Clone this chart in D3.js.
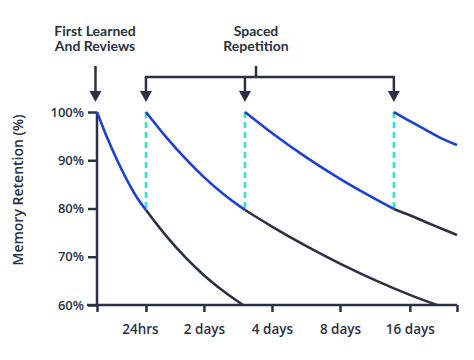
<!DOCTYPE html>
<html><head><meta charset="utf-8">
<script src="https://cdn.jsdelivr.net/npm/d3@7"></script>
<style>body{margin:0;background:#fff}svg{display:block}text{font-family:"Open Sans",sans-serif;font-weight:600;fill:#2a3144}</style>
</head><body><svg id="c" width="474" height="360"></svg>
<script>
// x in interval-index units (0 = first learning, 1 = 24hrs tick, ...), y in %
const xTickLabels = ["", "24hrs", "2 days", "4 days", "8 days", "16 days", ""];
const yTicks = [60, 70, 80, 90, 100];
const firstLearnTime = 0;
const reviewTimes = [1.0, 2.603, 4.771];
// forgetting curves: blue part (until review) and dark part (if review is skipped)
const curve1Blue = [[0,100],[0.2,94.86],[0.4,90.26],[0.6,86.16],[0.8,82.55],[1.0,79.7]];
const curve1Dark = [[1.0,79.7],[1.345,74.38],[1.69,69.75],[2.0,66.16],[2.294,62.78],[2.574,60]];
const curve2Blue = [[1.0,100],[1.345,94.84],[1.69,90.22],[2.0,86.5],[2.294,82.9],[2.603,79.7]];
const curve2Dark = [[2.603,79.7],[3.0,76.26],[3.5,72.25],[4.0,68.58],[4.5,65.16],[5.0,62.1],[5.574,60]];
const curve3Blue = [[2.603,100],[3.0,95.65],[3.5,90.64],[4.0,86.14],[4.386,82.92],[4.771,79.9]];
const curve3Dark = [[4.771,79.9],[5.0,78.59],[5.319,77.26],[5.638,75.96],[6.0,74.5]];
const curve4Blue = [[4.771,100],[5.0,98.1],[5.319,96.4],[5.638,94.7],[6.0,93.16]];

const svg = d3.select("#c");
const L = 97, R = 457, T = 112, B = 305;
const frac = [0, 0.136, 0.297, 0.486, 0.675, 0.869, 1];
const x = d3.scaleLinear().domain(d3.range(7)).range(frac.map(f => L + f*(R-L)));
const y = d3.scaleLinear().domain([60,100]).range([B,T]);
const dark = "#2a3144", blue = "#1c3fd8", cyan = "#2ee6c5";

// axes
const gy = svg.append("g").attr("transform",`translate(${L},0)`)
  .call(d3.axisLeft(y).tickValues(yTicks).tickFormat(d=>d+"%").tickSize(9).tickPadding(4));
gy.select(".domain").attr("stroke",dark).attr("stroke-width",2.5).attr("d",`M0,${T}V${B}`);
gy.selectAll(".tick line").attr("stroke",dark).attr("stroke-width",2.5);
gy.selectAll(".tick text").style("font-size","13px").attr("fill",dark);

const gx = svg.append("g").attr("transform",`translate(0,${B})`)
  .call(d3.axisBottom(x).tickValues(d3.range(7)).tickFormat((d,i)=>xTickLabels[i]).tickSize(7).tickPadding(12));
gx.select(".domain").attr("stroke",dark).attr("stroke-width",2.5).attr("d",`M${L-10},0H${R}`);
gx.selectAll(".tick line").attr("stroke",dark).attr("stroke-width",2.5);
gx.selectAll(".tick text").style("font-size","13.5px").attr("fill",dark)
  .attr("dx",(d)=> d===1 ? -6 : 0);

svg.append("text").attr("transform",`translate(23,190) rotate(-90)`).attr("text-anchor","middle")
  .style("font-size","14px").text("Memory Retention (%)");

// dashed review lines
svg.selectAll(".dash").data(reviewTimes).join("line")
  .attr("x1",d=>x(d)).attr("x2",d=>x(d)).attr("y1",y(100)).attr("y2",y(79.8))
  .attr("stroke",cyan).attr("stroke-width",2.5).attr("stroke-dasharray","6,4");

const line = d3.line().x(d=>x(d[0])).y(d=>y(d[1])).curve(d3.curveMonotoneX);
[[curve1Dark,dark],[curve2Dark,dark],[curve3Dark,dark],[curve1Blue,blue],[curve2Blue,blue],[curve3Blue,blue],[curve4Blue,blue]]
  .forEach(([data,col])=>{
    svg.append("path").datum(data).attr("d",line).attr("fill","none").attr("stroke",col).attr("stroke-width",2.6);
  });

// annotations
const ann = svg.append("g");
function arrow(cx, y0, tip){
  ann.append("line").attr("x1",cx).attr("x2",cx).attr("y1",y0).attr("y2",tip-8).attr("stroke",dark).attr("stroke-width",2.5);
  ann.append("path").attr("d",`M${cx-6},${tip-11}L${cx+6},${tip-11}L${cx},${tip}Z`).attr("fill",dark);
}
const tipY = 102, bracketY = 77;
arrow(x(firstLearnTime)-1.5, 66, tipY);
reviewTimes.forEach(t=>arrow(x(t), bracketY, tipY));
ann.append("line").attr("x1",x(reviewTimes[0])-1.2).attr("x2",x(reviewTimes[2])+1.2).attr("y1",bracketY).attr("y2",bracketY)
  .attr("stroke",dark).attr("stroke-width",2.5);
const midX = 256;
ann.append("line").attr("x1",midX).attr("x2",midX).attr("y1",66).attr("y2",bracketY).attr("stroke",dark).attr("stroke-width",2.5);

function label(cx, lines){
  lines.forEach((s,i)=>ann.append("text").attr("text-anchor","middle")
    .style("font-family","Lato, sans-serif").style("font-size","14px").style("font-weight","700")
    .attr("x",cx).attr("y",35.5+i*15.5).text(s));
}
label(95, ["First Learned","And Reviews"]);
label(256, ["Spaced","Repetition"]);
</script></body></html>
